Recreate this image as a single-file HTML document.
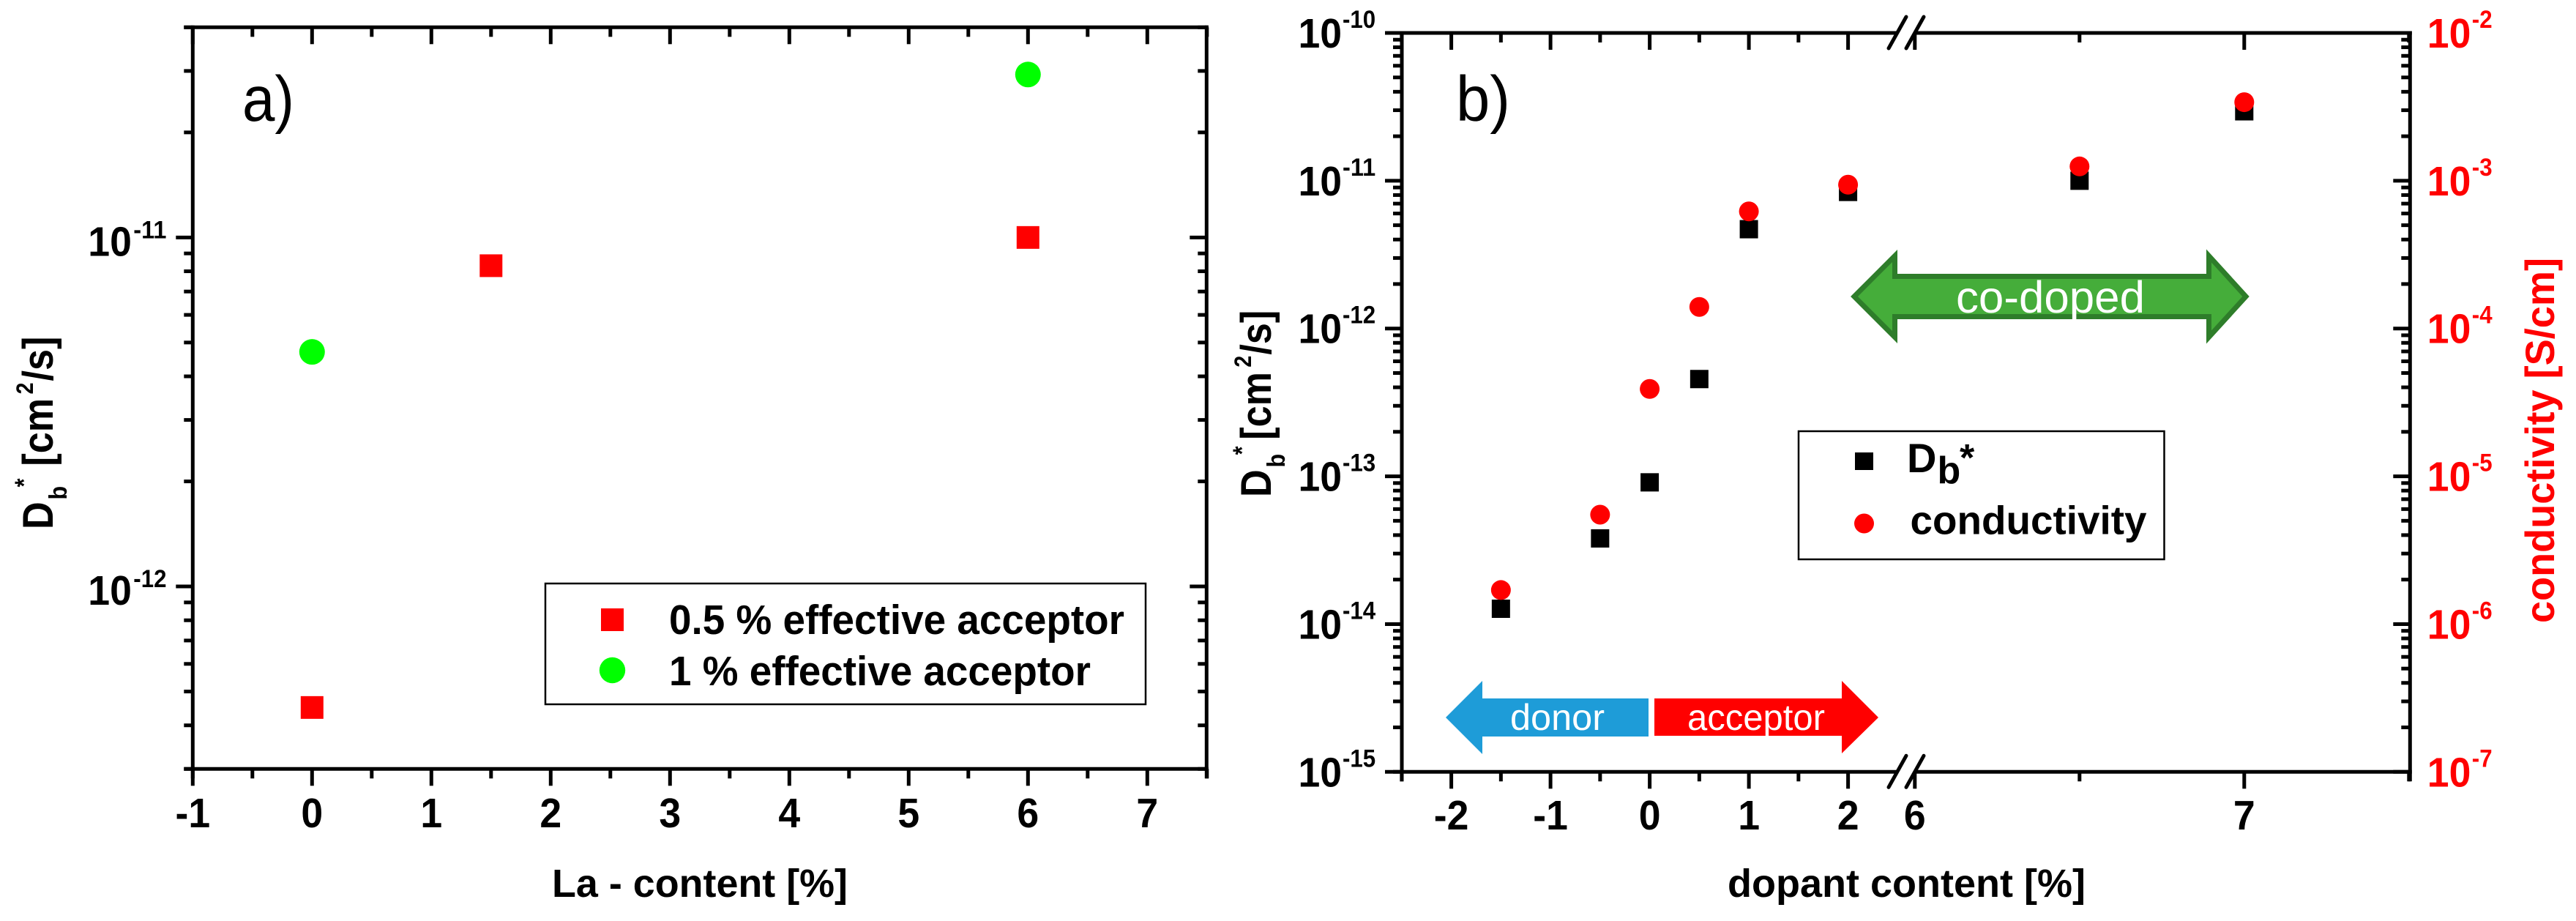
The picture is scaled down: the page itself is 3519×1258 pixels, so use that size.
<!DOCTYPE html>
<html lang="en">
<head>
<meta charset="utf-8">
<title>Db* versus La and dopant content</title>
<style>
html,body{margin:0;padding:0;background:#fff;}
svg{display:block;}
text{font-family:"Liberation Sans",sans-serif;}
.b{font-weight:bold;}
</style>
</head>
<body>
<svg id="fig" xmlns="http://www.w3.org/2000/svg" width="3519" height="1258" viewBox="0 0 3519 1258">
  <rect x="0" y="0" width="3519" height="1258" fill="#fff"/>
  <g id="panelA"></g>
  <g id="panelB"></g>

  <text x="331" y="165" font-size="87" textLength="71" lengthAdjust="spacingAndGlyphs">a)</text>
  <text x="1989" y="165" font-size="87" textLength="74" lengthAdjust="spacingAndGlyphs">b)</text>

  <text class="b" x="754" y="1225" font-size="54" textLength="404" lengthAdjust="spacingAndGlyphs">La - content [%]</text>
  <text class="b" x="2360" y="1225" font-size="54" textLength="489" lengthAdjust="spacingAndGlyphs">dopant content [%]</text>

  <text class="b" transform="translate(72,723) rotate(-90) scale(.9,1)" font-size="58">D<tspan font-size="34" x="45" dy="19">b</tspan><tspan font-size="34" x="64" dy="-47">*</tspan><tspan x="96" dy="28">[cm</tspan><tspan font-size="32" x="205" dy="-27">2</tspan><tspan x="225" dy="27">/s]</tspan></text>
  <text class="b" transform="translate(1736,679) rotate(-90) scale(.9,1)" font-size="58">D<tspan font-size="34" x="45" dy="19">b</tspan><tspan font-size="34" x="64" dy="-47">*</tspan><tspan x="87" dy="28">[cm</tspan><tspan font-size="32" x="197" dy="-27">2</tspan><tspan x="216" dy="27">/s]</tspan></text>
  <text class="b" transform="translate(3489,851) rotate(-90)" font-size="56" fill="#ff0000" textLength="499" lengthAdjust="spacingAndGlyphs">conductivity [S/cm]</text>

  <g>
    <rect x="745" y="797" width="820" height="165" fill="#fff" stroke="#000" stroke-width="2.5"/>
    <rect x="821" y="831" width="31" height="31" fill="#ff0000"/>
    <circle cx="836.5" cy="915.5" r="17.7" fill="#00ff00"/>
    <text class="b" x="914" y="866" font-size="57" textLength="622" lengthAdjust="spacingAndGlyphs">0.5 % effective acceptor</text>
    <text class="b" x="914" y="936" font-size="57" textLength="576" lengthAdjust="spacingAndGlyphs">1 % effective acceptor</text>
  </g>

  <g>
    <rect x="2457" y="589" width="499.5" height="175" fill="#fff" stroke="#000" stroke-width="2.5"/>
    <rect x="2534" y="618" width="25" height="24" fill="#000"/>
    <circle cx="2546.5" cy="715" r="13.5" fill="#ff0000"/>
    <text class="b" x="2605" y="645" font-size="56">D<tspan font-size="52" x="2646.5" y="660">b</tspan><tspan font-size="52" x="2677" y="643">*</tspan></text>
    <text class="b" x="2609.5" y="729.5" font-size="55" textLength="323" lengthAdjust="spacingAndGlyphs">conductivity</text>
  </g>

  <polygon points="2533,405 2588.5,349.5 2588.5,377.5 3017.5,377.5 3017.5,349.5 3068,405 3017.5,460.5 3017.5,432.5 2588.5,432.5 2588.5,460.5" fill="#45ad3a" stroke="#2e7d2a" stroke-width="7"/>
  <text x="2672" y="427" font-size="61" fill="#fff" textLength="258" lengthAdjust="spacingAndGlyphs">co-doped</text>

  <polygon points="1975,980 2025,930 2025,954 2252,954 2252,1006 2025,1006 2025,1030" fill="#1e9cd8"/>
  <text x="2063" y="997" font-size="50" fill="#fff" textLength="129" lengthAdjust="spacingAndGlyphs">donor</text>
  <polygon points="2566,980 2516,930 2516,954 2260,954 2260,1005 2516,1005 2516,1029" fill="#ff0000"/>
  <text x="2305" y="997" font-size="50" fill="#fff" textLength="188" lengthAdjust="spacingAndGlyphs">acceptor</text>
</svg>

<script>
// Panel a data
const laContentHalf = [0, 1.5, 6];
const dbHalfPercent = [4.5e-13, 8.3e-12, 1e-11];
const laContentOne = [0, 6];
const dbOnePercent = [4.7e-12, 2.93e-11];
const aXTickLabels = [-1, 0, 1, 2, 3, 4, 5, 6, 7];
const aXMinorTicks = [-0.5, 0.5, 1.5, 2.5, 3.5, 4.5, 5.5, 6.5, 7.5];
const aYDecades = [-11, -12];
const aYMinorTicks = [4e-11, 3e-11, 2e-11, 9e-12, 8e-12, 7e-12, 6e-12, 5e-12, 4e-12, 3e-12, 2e-12, 9e-13, 8e-13, 7e-13, 6e-13, 5e-13, 4e-13, 3e-13];

// Panel b data
const dopantContent = [-1.5, -0.5, 0, 0.5, 1, 2, 6.5, 7];
const dbValues = [1.27e-14, 3.8e-14, 9.1e-14, 4.55e-13, 4.7e-12, 8.4e-12, 1e-11, 2.95e-11];
const conductivityValues = [1.7e-6, 5.5e-6, 3.9e-5, 1.4e-4, 6.2e-4, 9.4e-4, 1.25e-3, 3.4e-3];
const bXTickLabels = [-2, -1, 0, 1, 2, 6, 7];
const bXMinorTicks = [-2.5, -1.5, -0.5, 0.5, 1.5, 6.5, 7.5];
const bLeftDecades = [-10, -11, -12, -13, -14, -15];
const bRightDecades = [-2, -3, -4, -5, -6, -7];
const minorMultipliers = [2, 3, 4, 5, 6, 7, 8, 9];

const NS = 'http://www.w3.org/2000/svg';

function make(parent, tag, attrs, txt) {
  const n = document.createElementNS(NS, tag);
  for (const k in attrs) n.setAttribute(k, attrs[k]);
  if (txt !== undefined) n.textContent = txt;
  parent.appendChild(n);
  return n;
}

function line(parent, x1, y1, x2, y2, w, name) {
  const n = make(parent, 'line', {x1: x1, y1: y1, x2: x2, y2: y2, stroke: '#000', 'stroke-width': w});
  
  
  return n;
}

// Natural advance of a bold numeric string, in em
function numEm(s) {
  let w = 0;
  for (const c of s) w += c === '-' ? 0.333 : 0.556;
  return w;
}

function numText(parent, x, y, s, size, color, squeeze, anchor) {
  return make(parent, 'text', {
    x: x, y: y, 'font-size': size, 'font-weight': 'bold', fill: color,
    'text-anchor': anchor,
    textLength: (numEm(s) * size * squeeze).toFixed(1),
    lengthAdjust: 'spacingAndGlyphs'
  }, s);
}

function powerLabel(parent, x, tickY, exp, color, dx, baseOff, expOff, name) {
  const base = numText(parent, x, tickY + baseOff, '10', 57, color, 0.94, 'start');
  
  
  const sup = numText(parent, x + dx, tickY + expOff, String(exp), 34, color, 0.92, 'start');
  
  
}

function square(parent, cx, cy, size, color, name) {
  const n = make(parent, 'rect', {x: cx - size / 2, y: cy - size / 2, width: size, height: size, fill: color});
  
  
}

function dot(parent, cx, cy, r, color, name) {
  const n = make(parent, 'circle', {cx: cx, cy: cy, r: r, fill: color});
  
  
}

function xTickLabel(parent, x, y, v, name) {
  const n = numText(parent, x, y, String(v), 57, '#000', 0.94, 'middle');
  
  
}

// ---------- Panel a ----------
(function () {
  const g = document.getElementById('panelA');
  const L = 263.3, R = 1648.3, T = 37.3, B = 1050.3;
  const xA = v => 426.3 + 163 * v;
  const yA = v => B - (Math.log10(v) - Math.log10(3e-13)) * 476.7;

  line(g, L - 12, T, R + 2.5, T, 5, 'panel-a-top-axis');
  line(g, L - 12, B, R + 2.5, B, 5, 'panel-a-bottom-axis');
  line(g, L, T - 2.5, L, B + 13, 5, 'panel-a-left-axis');
  line(g, R, T - 2.5, R, B + 13, 5, 'panel-a-right-axis');

  aXTickLabels.forEach(v => {
    line(g, xA(v), B, xA(v), B + 23, 5, 'panel-a-x-major-tick');
    line(g, xA(v), T, xA(v), T + 23, 5, 'panel-a-top-major-tick');
    xTickLabel(g, xA(v), 1130, v, 'panel-a-x-tick-label');
  });
  aXMinorTicks.forEach(v => {
    line(g, xA(v), B, xA(v), B + 13, 5, 'panel-a-x-minor-tick');
    line(g, xA(v), T, xA(v), T + 13, 5, 'panel-a-top-minor-tick');
  });
  aYDecades.forEach(e => {
    const y = yA(Math.pow(10, e));
    line(g, L - 23, y, L, y, 5, 'panel-a-y-major-tick');
    line(g, R - 23, y, R, y, 5, 'panel-a-right-major-tick');
    powerLabel(g, 120.3, y, e, '#000', 62, 25, 1, 'panel-a-y-tick-label');
  });
  aYMinorTicks.forEach(v => {
    const y = yA(v);
    line(g, L - 12, y, L, y, 5, 'panel-a-y-minor-tick');
    line(g, R - 12, y, R, y, 5, 'panel-a-right-minor-tick');
  });
  laContentHalf.forEach((x, i) => {
    square(g, xA(x), yA(dbHalfPercent[i]), 31, '#ff0000', 'half-percent-point');
  });
  laContentOne.forEach((x, i) => {
    dot(g, xA(x), yA(dbOnePercent[i]), 17.5, '#00ff00', 'one-percent-point');
  });
})();

// ---------- Panel b ----------
(function () {
  const g = document.getElementById('panelB');
  const L = 1915, R = 3292.3, T = 45, B = 1054.3;
  const decade = (B - T) / 5;
  const xB = v => v <= 2.5 ? 2253.6 + 135.5 * v : 2615.8 + 450 * (v - 6);
  const yL = v => B - (Math.log10(v) + 15) * decade;
  const yR = v => B - (Math.log10(v) + 7) * decade;

  [T, B].forEach(y => {
    line(g, L - 12, y, 2592, y, 5, 'panel-b-horizontal-axis-left-segment');
    line(g, 2616, y, R + 2.5, y, 5, 'panel-b-horizontal-axis-right-segment');
    [2592, 2616].forEach(cx => {
      const s = line(g, cx - 12, y + 21, cx + 12, y - 22, 5, 'axis-break-mark');
      s.setAttribute('stroke-linecap', 'round');
    });
  });
  line(g, L, T - 2.5, L, B + 13, 5, 'panel-b-left-axis');
  line(g, R, T - 2.5, R, B + 13, 5, 'panel-b-right-axis');

  bXTickLabels.forEach(v => {
    line(g, xB(v), B, xB(v), B + 23, 5, 'panel-b-x-major-tick');
    line(g, xB(v), T, xB(v), T + 23, 5, 'panel-b-top-major-tick');
    xTickLabel(g, xB(v), 1133, v, 'panel-b-x-tick-label');
  });
  bXMinorTicks.forEach(v => {
    line(g, xB(v), B, xB(v), B + 13, 5, 'panel-b-x-minor-tick');
    line(g, xB(v), T, xB(v), T + 13, 5, 'panel-b-top-minor-tick');
  });

  bLeftDecades.forEach(e => {
    const y = yL(Math.pow(10, e));
    line(g, L - 23, y, L, y, 5, 'panel-b-left-major-tick');
    powerLabel(g, 1773.5, y, e, '#000', 60.5, 20, -7, 'panel-b-left-tick-label');
    if (e > -15) {
      minorMultipliers.forEach(m => {
        const ym = yL(m * Math.pow(10, e - 1));
        line(g, L - 12, ym, L, ym, 5, 'panel-b-left-minor-tick');
      });
    }
  });
  bRightDecades.forEach(e => {
    const y = yR(Math.pow(10, e));
    line(g, R - 23, y, R, y, 5, 'panel-b-right-major-tick');
    powerLabel(g, 3315.8, y, e, '#ff0000', 61, 20, -7, 'panel-b-right-tick-label');
    if (e > -7) {
      minorMultipliers.forEach(m => {
        const ym = yR(m * Math.pow(10, e - 1));
        line(g, R - 12, ym, R, ym, 5, 'panel-b-right-minor-tick');
      });
    }
  });

  dopantContent.forEach((x, i) => {
    square(g, xB(x), yL(dbValues[i]), 25, '#000', 'db-point');
  });
  dopantContent.forEach((x, i) => {
    dot(g, xB(x), yR(conductivityValues[i]), 13.5, '#ff0000', 'conductivity-point');
  });
})();
</script>
</body>
</html>
